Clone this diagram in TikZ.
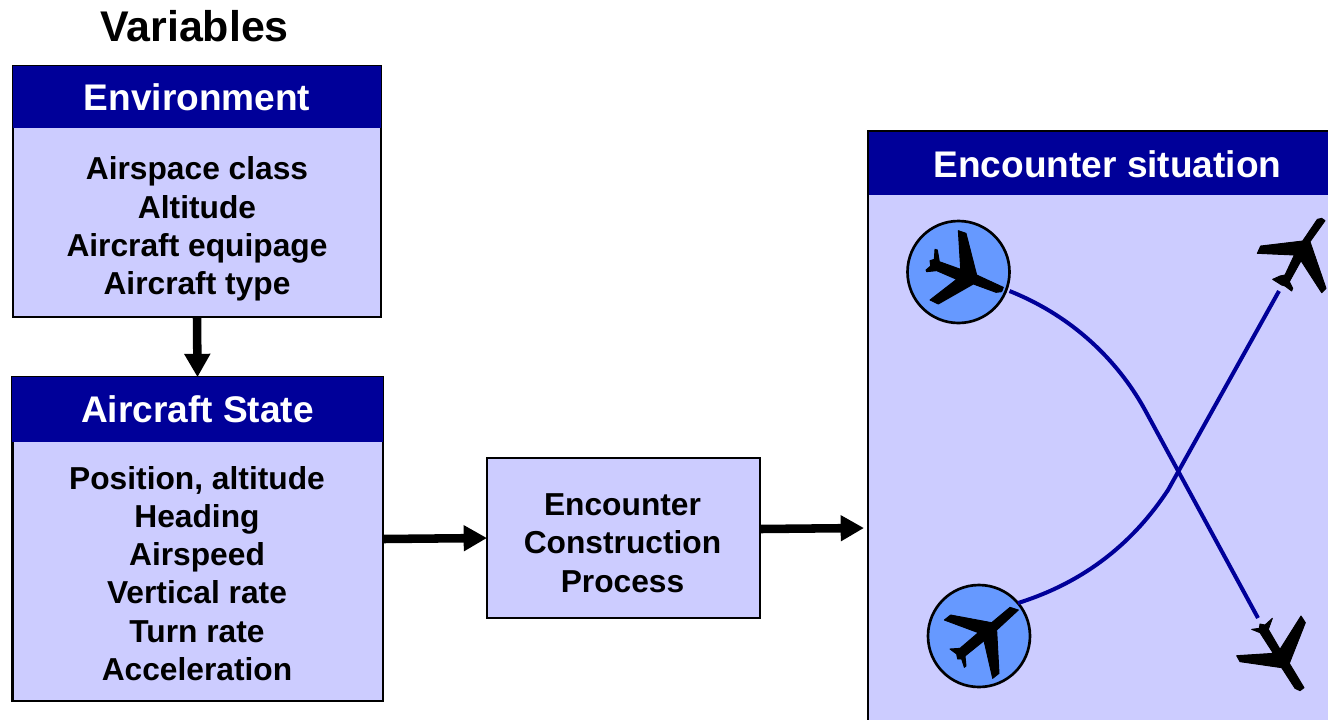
\documentclass[tikz,border=0pt]{standalone}
\usepackage{fontspec}
\setmainfont{Liberation Sans}
\usetikzlibrary{arrows.meta}
\definecolor{navy}{HTML}{000099}
\definecolor{lilac}{HTML}{CCCCFF}
\definecolor{sky}{HTML}{6699FF}
\tikzset{
  boxbase/.style={draw=black,line width=2pt,rectangle,outer sep=0pt,inner sep=0pt},
  bodybox/.style={boxbase,fill=lilac},
  headbox/.style={rectangle,outer sep=0pt,inner sep=0pt,fill=navy,text=white,font=\bfseries\fontsize{27.8pt}{30pt}\selectfont},
  bodytext/.style={align=center,inner sep=0pt,font=\bfseries\fontsize{23.8pt}{28.7pt}\selectfont},
  titletext/.style={inner sep=0pt,font=\bfseries\fontsize{32.2pt}{36pt}\selectfont},
  flow/.style={line width=6.4pt,-{Triangle[length=17.5pt,width=18.5pt]}},
  route/.style={navy,line width=3pt},
  disc/.style={circle,draw=black,line width=2pt,fill=sky,minimum size=76.5pt,inner sep=0pt,outer sep=0pt},
  tracing/.style={x=.25pt,y=-.25pt},
  jet/.style={fill=black,draw=black,line width=.7pt,line join=round}
}
\begin{document}
\begin{tikzpicture}[x=.75pt,y=-.75pt]
\useasboundingbox (0,0) rectangle (1328,719);
\clip (0,0) rectangle (1328,719);
\node[titletext] (title) at (194.5,26) {Variables};
% Environment
\node[bodybox,minimum width=276pt,minimum height=188pt] (envbody) at (197,191.5) {};
\node[headbox,minimum width=276pt,minimum height=46.5pt,text depth=0pt] (envhead) at (197,97) {Environment};
\node[bodytext] (envtext) at (197,229) {Airspace class\\Altitude\\Aircraft equipage\\Aircraft type};
% Aircraft state
\node[bodybox,minimum width=278pt,minimum height=243pt] (statebody) at (197.5,539) {};
\node[headbox,minimum width=278pt,minimum height=48.5pt] (statehead) at (197.5,409.5) {Aircraft State};
\node[bodytext] (statetext) at (197,573.5) {Position, altitude\\Heading\\Airspeed\\Vertical rate\\Turn rate\\Acceleration};
% Process
\node[bodybox,minimum width=204.75pt,minimum height=120pt] (proc) at (623.5,538) {};
\node[bodytext] (proctext) at (622.5,543) {Encounter\\Construction\\Process};
% Situation
\node[bodybox,minimum width=390pt,minimum height=480pt,anchor=north west] (sitbody) at (868,131) {};
\node[headbox,minimum width=390pt,minimum height=47.5pt,anchor=north west] (sithead) at (869,132) {};
\node[headbox,fill=none] (sittitle) at (1107.5,164) {Encounter situation};
% Discs
\node[disc] (d1) at (958.5,272) {};
\node[disc] (d2) at (979,636) {};
% Route ends
\coordinate (e1) at (1258,618);
\coordinate (e2) at (1279,291);
\draw[route] (d1) ++(51,19) .. controls +(70,28) and (1122,368) .. (1145,410) -- (e1);
\draw[route] (d2) ++(39,-33) .. controls +(70,-22) and (1135,540) .. (1168,490) -- (e2);
% Planes
\begin{scope}[shift={(890,200)},tracing]
\filldraw[jet] (205,92)--(228,100)--(260,225)--(340,262)--(335,275)--(318,277)--(250,252)--(145,312)--(120,300)--(200,238)--(140,212)--(110,215)--(108,210)--(122,198)--(120,182)--(133,178)--(135,148)--(142,150)--(148,185)--(212,208)--cycle;
\end{scope}
\begin{scope}[shift={(1230,200)},tracing]
\filldraw[jet] (262,58)--(275,55)--(285,62)--(240,125)--(288,265)--(275,278)--(213,182)--(178,245)--(188,265)--(185,273)--(165,258)--(155,255)--(128,238)--(150,228)--(165,225)--(193,165)--(82,160)--(92,138)--(218,123)--cycle;
\end{scope}
\begin{scope}[shift={(910,580)},tracing]
\filldraw[jet] (325,90)--(300,82)--(245,128)--(122,105)--(103,120)--(205,158)--(150,205)--(120,207)--(140,222)--(143,237)--(155,237)--(163,262)--(168,258)--(165,228)--(222,182)--(248,295)--(267,280)--(260,150)--cycle;
\end{scope}
\begin{scope}[shift={(1220,600)},tracing]
\filldraw[jet] (243,48)--(180,148)--(145,88)--(157,55)--(135,75)--(120,72)--(118,85)--(95,88)--(120,98)--(160,160)--(50,167)--(60,185)--(185,203)--(225,265)--(240,272)--(252,263)--(208,190)--(256,68)--cycle;
\end{scope}
% Arrows
\draw[flow] (envbody.south) -- (statehead.north);
\draw[flow] ([yshift=-.75pt]statebody.east |- proc.west) -- (proc.west);
\draw[flow] ([yshift=6.75pt]proc.east) -- ([yshift=7.5pt,xshift=-3pt]sitbody.west |- proc.east);
\end{tikzpicture}
\end{document}
